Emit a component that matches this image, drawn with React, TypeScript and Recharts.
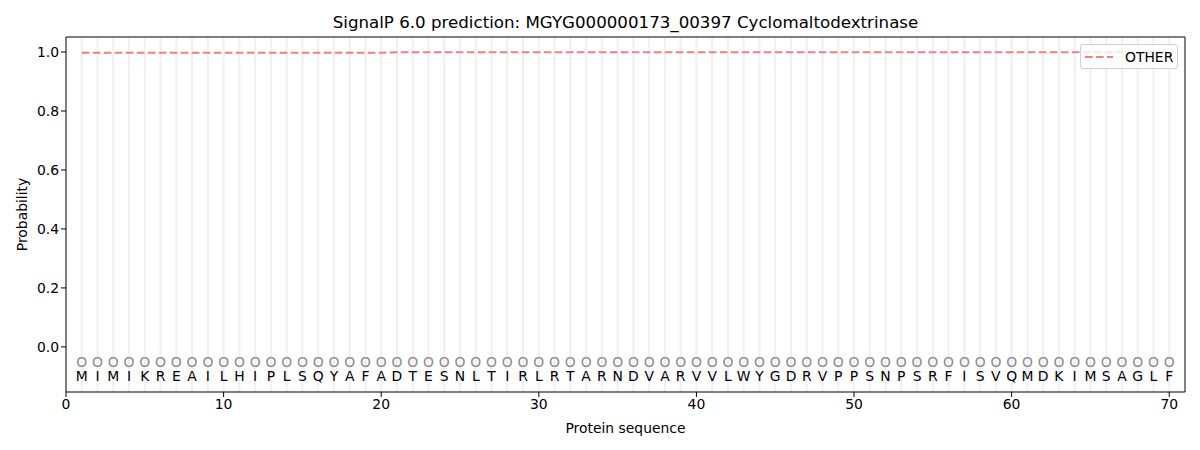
import React from 'react';
import { ComposedChart, Line, Scatter, XAxis, YAxis, ReferenceLine } from 'recharts';

const residues = ['M','I','M','I','K','R','E','A','I','L','H','I','P','L','S','Q','Y','A','F','A','D','T','E','S','N','L','T','I','R','L','R','T','A','R','N','D','V','A','R','V','V','L','W','Y','G','D','R','V','P','P','S','N','P','S','R','F','I','S','V','Q','M','D','K','I','M','S','A','G','L','F'];
const positions = [1,2,3,4,5,6,7,8,9,10,11,12,13,14,15,16,17,18,19,20,21,22,23,24,25,26,27,28,29,30,31,32,33,34,35,36,37,38,39,40,41,42,43,44,45,46,47,48,49,50,51,52,53,54,55,56,57,58,59,60,61,62,63,64,65,66,67,68,69,70];
const otherProb = [0.998,0.998,0.998,0.998,0.998,0.998,0.998,0.998,0.998,0.998,0.998,0.998,0.998,0.998,0.998,0.998,0.998,0.998,0.998,0.998,0.999,0.999,0.999,0.999,0.999,0.999,0.999,0.999,0.999,0.999,0.999,0.999,0.999,0.999,0.999,0.999,0.999,0.999,0.999,0.999,0.999,0.999,0.999,0.999,0.999,0.999,0.999,0.999,0.999,0.999,0.999,0.999,0.999,0.999,0.999,0.999,0.999,0.999,0.999,0.999,0.9995,0.9995,0.9995,0.9995,0.9995,0.9995,0.9995,0.9995,0.9995,0.9995];
const markerLevel = -0.05;
const letterLevel = -0.1;
const xTicks = [0, 10, 20, 30, 40, 50, 60, 70];
const yTicks = [0, 0.2, 0.4, 0.6, 0.8, 1.0];
const xDomain = [0, 71];
const yDomain = [-0.153, 1.051];

const FONT = '"DejaVu Sans", sans-serif';
const LINE_COLOR = '#f08080';
const DASH = '7.7 3.3';

const data = positions.map((p, i) => ({
  pos: p,
  other: otherProb[i],
  marker: markerLevel,
  letter: letterLevel,
  res: residues[i],
}));

const MarkerShape = (props: any) => {
  const { cx, cy } = props;
  return (
    <text x={cx} y={cy} textAnchor="middle" dominantBaseline="central" fontSize={13.9} fontFamily={FONT} fill="#8a8a8a">
      O
    </text>
  );
};

const LetterShape = (props: any) => {
  const { cx, cy, payload } = props;
  return (
    <text x={cx} y={cy} textAnchor="middle" dominantBaseline="central" fontSize={13.9} fontFamily={FONT} fill="#000">
      {payload.res}
    </text>
  );
};

const YLabel = (props: any) => {
  const vb = props.viewBox || { x: 0, y: 37, width: 66, height: 355 };
  const cy = vb.y + vb.height / 2;
  return (
    <text x={22} y={cy} transform={`rotate(-90, 22, ${cy})`} textAnchor="middle" dominantBaseline="central" fontSize={13.9} fontFamily={FONT} fill="#000">
      Probability
    </text>
  );
};

const LegendBox = () => (
  <div style={{
    position: 'absolute', top: 44, left: 1080, width: 98, height: 25,
    border: '1px solid #d0d0d0', borderRadius: 3, background: 'rgba(255,255,255,0.8)',
    display: 'flex', alignItems: 'center', boxSizing: 'border-box', fontFamily: FONT, fontSize: 13.9,
  }}>
    <svg width={40} height={22} style={{ display: 'block' }}>
      <line x1={4} y1={11} x2={32} y2={11} stroke={LINE_COLOR} strokeWidth={2} strokeDasharray={DASH} />
    </svg>
    <span style={{ color: '#000', marginLeft: 4 }}>OTHER</span>
  </div>
);

export default function App() {
  return (
    <div style={{ position: 'absolute', left: 0, top: 0, width: 1200, height: 450, background: '#fff' }}>
      <div style={{
        position: 'absolute', left: 66, top: 13, width: 1119, textAlign: 'center', fontFamily: FONT,
        fontSize: 16.67, lineHeight: '20px', color: '#000',
      }}>
        SignalP 6.0 prediction: MGYG000000173_00397 Cyclomaltodextrinase
      </div>
      <ComposedChart width={1200} height={450} data={data} margin={{ top: 37, right: 15, left: 0, bottom: 0 }}>
        {positions.map((p) => (
          <ReferenceLine key={`v${p}`} x={p} stroke="#f0f0f0" strokeWidth={2} ifOverflow="visible" />
        ))}
        <XAxis
          type="number"
          dataKey="pos"
          domain={xDomain}
          ticks={xTicks}
          allowDataOverflow
          height={58}
          axisLine={{ stroke: '#000', strokeWidth: 1 }}
          tickLine={{ stroke: '#000' }}
          tickSize={5}
          tick={{ fill: '#000', fontSize: 13.9, fontFamily: FONT }}
          label={{ value: 'Protein sequence', position: 'insideBottom', offset: 17, fill: '#000', fontSize: 13.9, fontFamily: FONT }}
        />
        <YAxis
          type="number"
          domain={yDomain}
          ticks={yTicks}
          allowDataOverflow
          width={66}
          axisLine={{ stroke: '#000', strokeWidth: 1 }}
          tickLine={{ stroke: '#000' }}
          tickSize={5}
          tickFormatter={(v: number) => v.toFixed(1)}
          tick={{ fill: '#000', fontSize: 13.9, fontFamily: FONT }}
          label={<YLabel />}
        />
        <ReferenceLine x={xDomain[1]} stroke="#000" strokeWidth={1} ifOverflow="visible" />
        <ReferenceLine y={yDomain[1]} stroke="#000" strokeWidth={1} ifOverflow="visible" />
        <Line
          type="linear"
          dataKey="other"
          name="OTHER"
          stroke={LINE_COLOR}
          strokeWidth={2}
          strokeDasharray={DASH}
          dot={false}
          activeDot={false}
          isAnimationActive={false}
        />
        <Scatter dataKey="marker" shape={<MarkerShape />} isAnimationActive={false} legendType="none" />
        <Scatter dataKey="letter" shape={<LetterShape />} isAnimationActive={false} legendType="none" />
      </ComposedChart>
      <LegendBox />
    </div>
  );
}
